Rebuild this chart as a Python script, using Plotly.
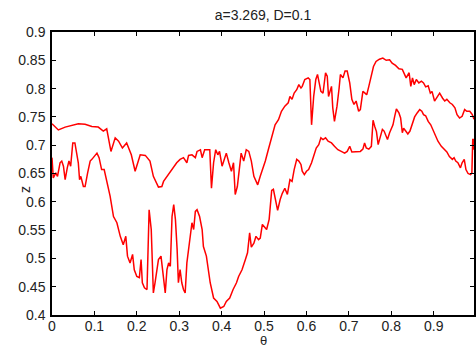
import plotly.graph_objects as go

# Upper branch of the curve
theta_upper = [0.000, 0.015, 0.031, 0.046, 0.062, 0.078, 0.094, 0.109, 0.121, 0.129,
               0.139, 0.149, 0.157, 0.166, 0.176, 0.187, 0.196, 0.208, 0.220, 0.231,
               0.239, 0.251, 0.259, 0.263, 0.271, 0.279, 0.287, 0.294, 0.302, 0.310,
               0.318, 0.322, 0.330, 0.338, 0.342, 0.350, 0.354, 0.360, 0.367, 0.372,
               0.376, 0.381, 0.386, 0.391, 0.395, 0.401, 0.405, 0.411, 0.417, 0.423,
               0.428, 0.432, 0.437, 0.442, 0.446, 0.452, 0.458, 0.464, 0.470, 0.476,
               0.485, 0.491, 0.498, 0.503, 0.510, 0.518, 0.526, 0.534, 0.541, 0.549,
               0.557, 0.561, 0.566, 0.571, 0.577, 0.582, 0.587, 0.590, 0.596, 0.604,
               0.608, 0.612, 0.617, 0.622, 0.626, 0.630, 0.634, 0.639, 0.645, 0.649,
               0.652, 0.659, 0.662, 0.666, 0.672, 0.677, 0.680, 0.686, 0.691, 0.696,
               0.702, 0.707, 0.712, 0.717, 0.723, 0.727, 0.733, 0.738, 0.742, 0.747,
               0.752, 0.758, 0.764, 0.772, 0.780, 0.788, 0.796, 0.802, 0.810, 0.818,
               0.826, 0.831, 0.835, 0.842, 0.846, 0.850, 0.854, 0.859, 0.865, 0.871,
               0.876, 0.881, 0.887, 0.892, 0.896, 0.902, 0.908, 0.914, 0.921, 0.926,
               0.931, 0.938, 0.944, 0.950, 0.955, 0.961, 0.967, 0.973, 0.978, 0.985,
               0.991, 0.995]
z_upper = [0.738, 0.727, 0.732, 0.735, 0.738, 0.737, 0.733, 0.732, 0.725, 0.729,
           0.689, 0.713, 0.707, 0.695, 0.704, 0.683, 0.654, 0.683, 0.682, 0.672,
           0.645, 0.626, 0.627, 0.636, 0.645, 0.654, 0.663, 0.669, 0.675, 0.678,
           0.669, 0.682, 0.683, 0.678, 0.689, 0.692, 0.678, 0.692, 0.692, 0.692,
           0.624, 0.669, 0.692, 0.683, 0.689, 0.663, 0.672, 0.686, 0.669, 0.654,
           0.669, 0.613, 0.627, 0.657, 0.686, 0.672, 0.692, 0.689, 0.672, 0.645,
           0.630, 0.645, 0.660, 0.672, 0.692, 0.716, 0.736, 0.745, 0.760, 0.769,
           0.775, 0.786, 0.781, 0.792, 0.798, 0.807, 0.801, 0.804, 0.816, 0.819,
           0.816, 0.736, 0.786, 0.816, 0.825, 0.810, 0.795, 0.792, 0.828, 0.822,
           0.786, 0.804, 0.766, 0.742, 0.769, 0.801, 0.825, 0.819, 0.831, 0.831,
           0.810, 0.781, 0.772, 0.778, 0.760, 0.763, 0.795, 0.792, 0.789, 0.804,
           0.822, 0.839, 0.848, 0.852, 0.854, 0.850, 0.851, 0.845, 0.841, 0.835,
           0.834, 0.825, 0.819, 0.828, 0.804, 0.819, 0.807, 0.816, 0.810, 0.813,
           0.810, 0.803, 0.805, 0.792, 0.795, 0.778, 0.786, 0.792, 0.783, 0.778,
           0.781, 0.775, 0.772, 0.766, 0.754, 0.748, 0.751, 0.763, 0.760, 0.760,
           0.754, 0.746]

# Lower branch of the curve
theta_lower = [0.000, 0.003, 0.009, 0.013, 0.019, 0.023, 0.027, 0.031, 0.036, 0.040,
               0.044, 0.049, 0.054, 0.058, 0.062, 0.065, 0.068, 0.074, 0.078, 0.084,
               0.090, 0.094, 0.100, 0.106, 0.111, 0.117, 0.123, 0.129, 0.137, 0.145,
               0.153, 0.161, 0.168, 0.174, 0.178, 0.184, 0.190, 0.194, 0.200, 0.206,
               0.210, 0.213, 0.218, 0.224, 0.229, 0.234, 0.239, 0.243, 0.247, 0.251,
               0.257, 0.261, 0.267, 0.271, 0.275, 0.279, 0.283, 0.287, 0.291, 0.295,
               0.298, 0.302, 0.306, 0.310, 0.314, 0.318, 0.324, 0.330, 0.334, 0.338,
               0.342, 0.348, 0.354, 0.357, 0.364, 0.369, 0.373, 0.381, 0.389, 0.397,
               0.405, 0.411, 0.419, 0.427, 0.435, 0.440, 0.448, 0.456, 0.461, 0.466,
               0.470, 0.476, 0.481, 0.487, 0.491, 0.496, 0.501, 0.506, 0.512, 0.518,
               0.522, 0.527, 0.532, 0.538, 0.543, 0.549, 0.555, 0.561, 0.566, 0.571,
               0.577, 0.582, 0.587, 0.590, 0.595, 0.600, 0.605, 0.612, 0.618, 0.623,
               0.629, 0.634, 0.639, 0.645, 0.651, 0.659, 0.666, 0.674, 0.682, 0.690,
               0.696, 0.702, 0.707, 0.713, 0.721, 0.727, 0.733, 0.737, 0.741, 0.747,
               0.753, 0.757, 0.761, 0.765, 0.769, 0.775, 0.779, 0.783, 0.787, 0.791,
               0.796, 0.800, 0.804, 0.808, 0.812, 0.818, 0.822, 0.826, 0.829, 0.834,
               0.839, 0.844, 0.850, 0.855, 0.861, 0.867, 0.872, 0.876, 0.881, 0.887,
               0.893, 0.898, 0.904, 0.910, 0.918, 0.926, 0.931, 0.937, 0.944, 0.948,
               0.952, 0.957, 0.963, 0.967, 0.972, 0.976, 0.981, 0.987, 0.990, 0.992,
               0.994, 0.995]
z_lower = [0.678, 0.642, 0.651, 0.645, 0.669, 0.672, 0.663, 0.639, 0.660, 0.672,
           0.663, 0.704, 0.704, 0.686, 0.669, 0.639, 0.645, 0.627, 0.627, 0.651,
           0.672, 0.675, 0.680, 0.686, 0.678, 0.657, 0.657, 0.639, 0.610, 0.574,
           0.563, 0.539, 0.524, 0.539, 0.504, 0.492, 0.507, 0.480, 0.468, 0.466,
           0.498, 0.457, 0.448, 0.445, 0.586, 0.551, 0.439, 0.457, 0.480, 0.498,
           0.504, 0.480, 0.439, 0.480, 0.492, 0.486, 0.574, 0.595, 0.569, 0.516,
           0.457, 0.480, 0.457, 0.445, 0.439, 0.492, 0.527, 0.563, 0.551, 0.583,
           0.586, 0.574, 0.551, 0.521, 0.504, 0.480, 0.457, 0.430, 0.424, 0.412,
           0.415, 0.424, 0.430, 0.445, 0.457, 0.468, 0.480, 0.498, 0.510, 0.545,
           0.520, 0.527, 0.539, 0.533, 0.536, 0.560, 0.555, 0.551, 0.569, 0.620,
           0.622, 0.601, 0.585, 0.604, 0.615, 0.624, 0.613, 0.639, 0.636, 0.657,
           0.675, 0.672, 0.666, 0.654, 0.648, 0.654, 0.657, 0.669, 0.686, 0.695,
           0.701, 0.713, 0.710, 0.713, 0.707, 0.704, 0.698, 0.692, 0.689, 0.686,
           0.689, 0.698, 0.688, 0.688, 0.688, 0.689, 0.693, 0.704, 0.695, 0.693,
           0.698, 0.744, 0.733, 0.724, 0.701, 0.716, 0.728, 0.725, 0.719, 0.710,
           0.722, 0.730, 0.736, 0.751, 0.764, 0.757, 0.748, 0.722, 0.730, 0.725,
           0.720, 0.725, 0.739, 0.750, 0.757, 0.763, 0.760, 0.754, 0.752, 0.742,
           0.736, 0.727, 0.719, 0.707, 0.698, 0.692, 0.688, 0.680, 0.675, 0.678,
           0.672, 0.669, 0.660, 0.669, 0.675, 0.657, 0.650, 0.648, 0.651, 0.710,
           0.710, 0.692]

x_ticks = [0, 0.1, 0.2, 0.3, 0.4, 0.5, 0.6, 0.7, 0.8, 0.9]
x_tick_labels = ["0", "0.1", "0.2", "0.3", "0.4", "0.5", "0.6", "0.7", "0.8", "0.9"]
y_ticks = [0.4, 0.45, 0.5, 0.55, 0.6, 0.65, 0.7, 0.75, 0.8, 0.85, 0.9]
y_tick_labels = ["0.4", "0.45", "0.5", "0.55", "0.6", "0.65", "0.7", "0.75", "0.8", "0.85", "0.9"]

title_text = "a=3.269, D=0.1"
x_label = "θ"
y_label = "z"

W, H = 476, 347
ML, MR, MT, MB = 52, 2, 32, 32
FONT = "Liberation Sans, Arial, sans-serif"

fig = go.Figure()
for xs, ys in [(theta_upper, z_upper), (theta_lower, z_lower)]:
    fig.add_trace(go.Scatter(x=xs, y=ys, mode="lines",
                             line=dict(color="#ff0000", width=1.5),
                             showlegend=False, hoverinfo="skip"))

axis_common = dict(showgrid=False, zeroline=False, showline=True, linecolor="black",
                   linewidth=1.5, mirror="allticks", ticks="inside", ticklen=4,
                   tickwidth=1, tickcolor="black", automargin=False,
                   tickfont=dict(family=FONT, size=14, color="#222222"))

fig.update_layout(
    width=W, height=H,
    margin=dict(l=ML, r=MR, t=MT, b=MB, pad=0, autoexpand=False),
    paper_bgcolor="white", plot_bgcolor="white",
    title=dict(text=title_text, x=0.5, xref="paper", xanchor="center",
               y=1 - 15 / H, yref="container", yanchor="middle",
               font=dict(family=FONT, size=14, color="#222222")),
    xaxis=dict(range=[0, 0.995], tickvals=x_ticks, ticktext=x_tick_labels,
               ticklabelstandoff=-3, **axis_common),
    yaxis=dict(range=[0.4, 0.9], tickvals=y_ticks, ticktext=y_tick_labels,
               ticklabelstandoff=2, **axis_common),
    annotations=[
        dict(text=x_label, x=0.5, xref="paper", y=-(340 - 315) / (H - MT - MB),
             yref="paper", showarrow=False, xanchor="center", yanchor="middle",
             font=dict(family=FONT, size=13, color="#222222")),
        dict(text=y_label, x=-(52 - 25) / (W - ML - MR), xref="paper",
             y=(315 - 190) / (H - MT - MB), yref="paper", showarrow=False,
             textangle=-90, xanchor="center", yanchor="middle",
             font=dict(family=FONT, size=14, color="#222222")),
    ],
)

fig.write_html("out.html", config={"displayModeBar": False},
               post_script="document.body.style.margin='0';document.body.style.overflow='hidden';")
